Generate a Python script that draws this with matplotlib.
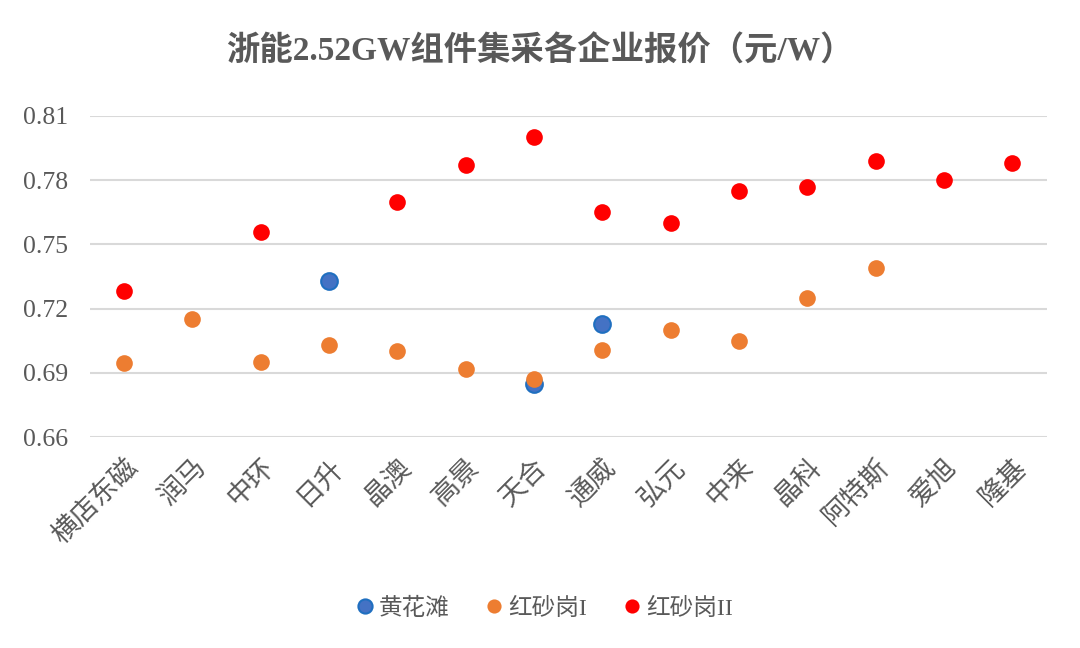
import matplotlib
matplotlib.use("Agg")
import matplotlib.pyplot as plt
import numpy as np

companies = ["横店东磁", "润马", "中环", "日升", "晶澳", "高景", "天合",
             "通威", "弘元", "中来", "晶科", "阿特斯", "爱旭", "隆基"]
nan = np.nan
huanghuatan = [nan, nan, nan, 0.733, nan, nan, 0.685, 0.713, nan, nan, nan, nan, nan, nan]
hongshagang_1 = [0.6945, 0.715, 0.695, 0.703, 0.700, 0.692, 0.687,
                 0.7005, 0.710, 0.705, 0.725, 0.739, nan, nan]
hongshagang_2 = [0.728, nan, 0.756, nan, 0.770, 0.787, 0.800,
                 0.765, 0.760, 0.775, 0.777, 0.789, 0.780, 0.788]
yticks = [0.66, 0.69, 0.72, 0.75, 0.78, 0.81]

fonts = ["Liberation Serif", "Noto Sans CJK SC", "DejaVu Sans"]
plt.rcParams["font.family"] = fonts
grey = "#595959"

fig = plt.figure(figsize=(10.8, 6.48), dpi=100)
ax = fig.add_axes([0.0833, 0.3256, 0.8858, 0.4954])

x = np.arange(len(companies))
ax.plot(x, huanghuatan, "o", ms=12, mfc="#4472C4", mec="#1F6FC0", mew=1.5,
        label="黄花滩", zorder=3)
ax.plot(x, hongshagang_1, "o", ms=12, mfc="#ED7D31", mec="#ED7D31", mew=0,
        label="红砂岗I", zorder=3)
ax.plot(x, hongshagang_2, "o", ms=12, mfc="#FF0000", mec="#FF0000", mew=0,
        label="红砂岗II", zorder=3)

ax.set_xlim(-0.5, len(companies) - 0.5)
ax.set_ylim(0.66, 0.81)
ax.set_yticks(yticks)
ax.set_yticklabels([f"{v:.2f}" for v in yticks], fontsize=18.5, color=grey)
ax.set_xticks(x)
ax.set_xticklabels(companies, rotation=45, ha="right", rotation_mode="anchor",
                   fontsize=19.5, color=grey)
ax.tick_params(axis="both", length=0)
ax.tick_params(axis="y", pad=16)
ax.tick_params(axis="x", pad=12)
for lbl in ax.get_xticklabels():
    lbl.set_family(["Noto Sans CJK SC", "DejaVu Sans"])

ax.grid(axis="y", color="#D9D9D9", lw=1.5)
ax.set_axisbelow(True)
for s in ax.spines.values():
    s.set_visible(False)

fig.text(0.5, 0.921, "浙能2.52GW组件集采各企业报价（元/W）", ha="center", va="center",
         fontsize=24, fontweight="bold", color=grey)

leg = fig.legend(loc="center", bbox_to_anchor=(0.505, 0.061), ncol=3, frameon=False,
                 fontsize=17, handlelength=0.6, handletextpad=0.3, columnspacing=1.6,
                 markerscale=0.85)
for t in leg.get_texts():
    t.set_color(grey)

fig.savefig("out.png", dpi=100, facecolor="white")
